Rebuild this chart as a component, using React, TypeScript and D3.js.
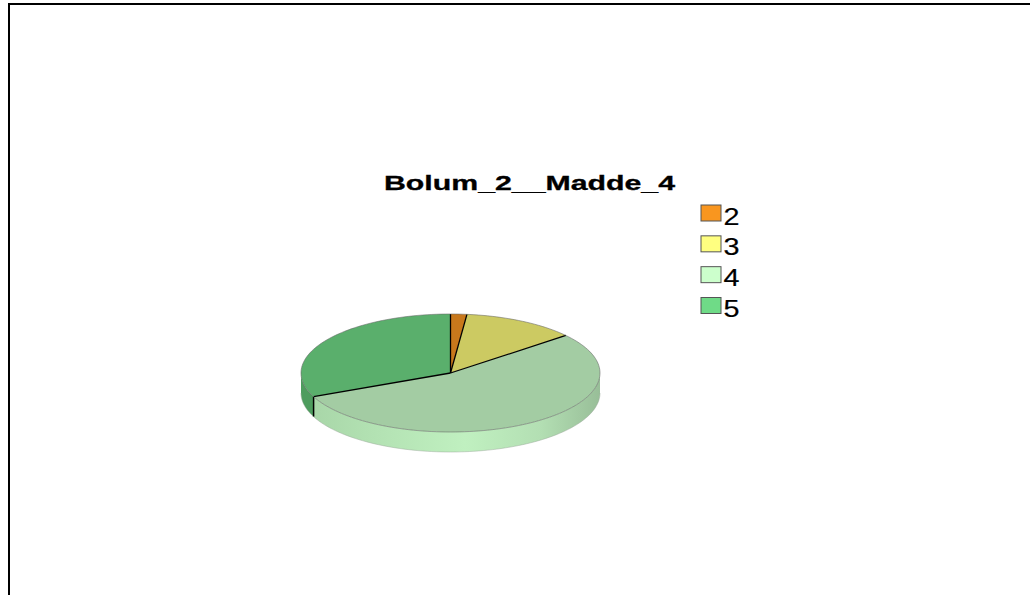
import React from "react";
import * as d3 from "d3";

const title = "Bolum_2__Madde_4";
const categories = ["2", "3", "4", "5"];
const counts = [1, 7, 31, 18];
const legendColors = ["#F9961F", "#FFFF80", "#CCFFCC", "#6FDB87"];
const topColors = ["#C8781C", "#CCCA62", "#A3CCA3", "#5AAF6C"];
const sideColors = ["#A9601A", "#ABA94F", "url(#side4)", "#4E9C5E"];

const W = 1030;
const H = 595;
const cx = 450.5;
const cy = 373;
const rx = 149.5;
const ry = 59;
const depth = 20;

function pt(a: number, dy = 0): [number, number] {
  return [cx + rx * Math.sin(a), cy - ry * Math.cos(a) + dy];
}

function arcPts(a0: number, a1: number, dy = 0): [number, number][] {
  const n = Math.max(2, Math.ceil(((a1 - a0) / (2 * Math.PI)) * 200));
  const out: [number, number][] = [];
  for (let i = 0; i <= n; i++) out.push(pt(a0 + ((a1 - a0) * i) / n, dy));
  return out;
}

const line = d3.line<[number, number]>();

export default function App() {
  const pie = d3
    .pie<number>()
    .sort(null)
    .startAngle(0)
    .endAngle(2 * Math.PI);
  const arcs = pie(counts);

  const sides = arcs
    .map((a, i) => {
      const s = Math.max(a.startAngle, Math.PI / 2);
      const e = Math.min(a.endAngle, (3 * Math.PI) / 2);
      if (e <= s) return null;
      const top = arcPts(s, e);
      const bot = arcPts(s, e, depth).reverse();
      return { i, d: line([...top, ...bot])! + "Z" };
    })
    .filter(Boolean) as { i: number; d: string }[];

  const tops = arcs.map((a, i) => ({
    i,
    d: line([[cx, cy], ...arcPts(a.startAngle, a.endAngle)])! + "Z",
  }));

  const edges = arcs
    .map((a) => a.startAngle)
    .filter((a) => a > Math.PI / 2 && a < (3 * Math.PI) / 2);

  const legendY = d3
    .scalePoint<string>()
    .domain(categories)
    .range([205, 297.5]);

  return (
    <svg
      width={W}
      height={H}
      style={{ position: "absolute", left: 0, top: 0, background: "#fff" }}
      fontFamily="Arial, 'Liberation Sans', sans-serif"
    >
      <defs>
        <linearGradient id="side4" gradientUnits="userSpaceOnUse" x1={cx - rx} x2={cx + rx} y1={0} y2={0}>
          <stop offset="0" stopColor="#A6D4A6" />
          <stop offset="0.25" stopColor="#B3E2B3" />
          <stop offset="0.55" stopColor="#C0F0C0" />
          <stop offset="0.8" stopColor="#B3DFB3" />
          <stop offset="1" stopColor="#98BE98" />
        </linearGradient>
      </defs>
      <rect x={9} y={4} width={1100} height={700} fill="none" stroke="#000" strokeWidth={2} />

      <text
        x={384}
        y={189.5}
        fontSize={20.5}
        fontWeight="bold"
        textLength={291}
        lengthAdjust="spacingAndGlyphs"
        fill="#000"
        stroke="#000"
        strokeWidth={0.3}
      >
        {title}
      </text>

      {sides.map((s) => (
        <path key={"s" + s.i} d={s.d} fill={sideColors[s.i]} stroke="none" />
      ))}
      {edges.map((a, k) => {
        const [x0, y0] = pt(a);
        const [x1, y1] = pt(a, depth);
        return <line key={"e" + k} x1={x0} y1={y0} x2={x1} y2={y1} stroke="#000" strokeWidth={1.5} />;
      })}
      <path
        d={line(arcPts(Math.PI / 2, (3 * Math.PI) / 2, depth))!}
        fill="none"
        stroke="#9aa89a"
        strokeWidth={0.8}
        opacity={0.6}
      />
      {tops.map((t) => (
        <path key={"t" + t.i} d={t.d} fill={topColors[t.i]} stroke="none" />
      ))}
      {arcs.map((a, i) => {
        const [x, y] = pt(a.startAngle);
        return <line key={"r" + i} x1={cx} y1={cy} x2={x} y2={y} stroke="#000" strokeWidth={1.3} />;
      })}
      <path
        d={line(arcPts(0, 2 * Math.PI))!}
        fill="none"
        stroke="#666"
        strokeWidth={0.8}
        opacity={0.7}
      />

      {categories.map((c, i) => {
        const y = legendY(c)!;
        return (
          <g key={"l" + c}>
            <rect x={701} y={y} width={20} height={16} fill={legendColors[i]} stroke="#555" strokeWidth={1} />
            <text
              x={723.5}
              y={y + 19.5}
              fontSize={23.5}
              fill="#000"
              textLength={16}
              lengthAdjust="spacingAndGlyphs"
              stroke="#000"
              strokeWidth={0.2}
            >
              {c}
            </text>
          </g>
        );
      })}
    </svg>
  );
}
